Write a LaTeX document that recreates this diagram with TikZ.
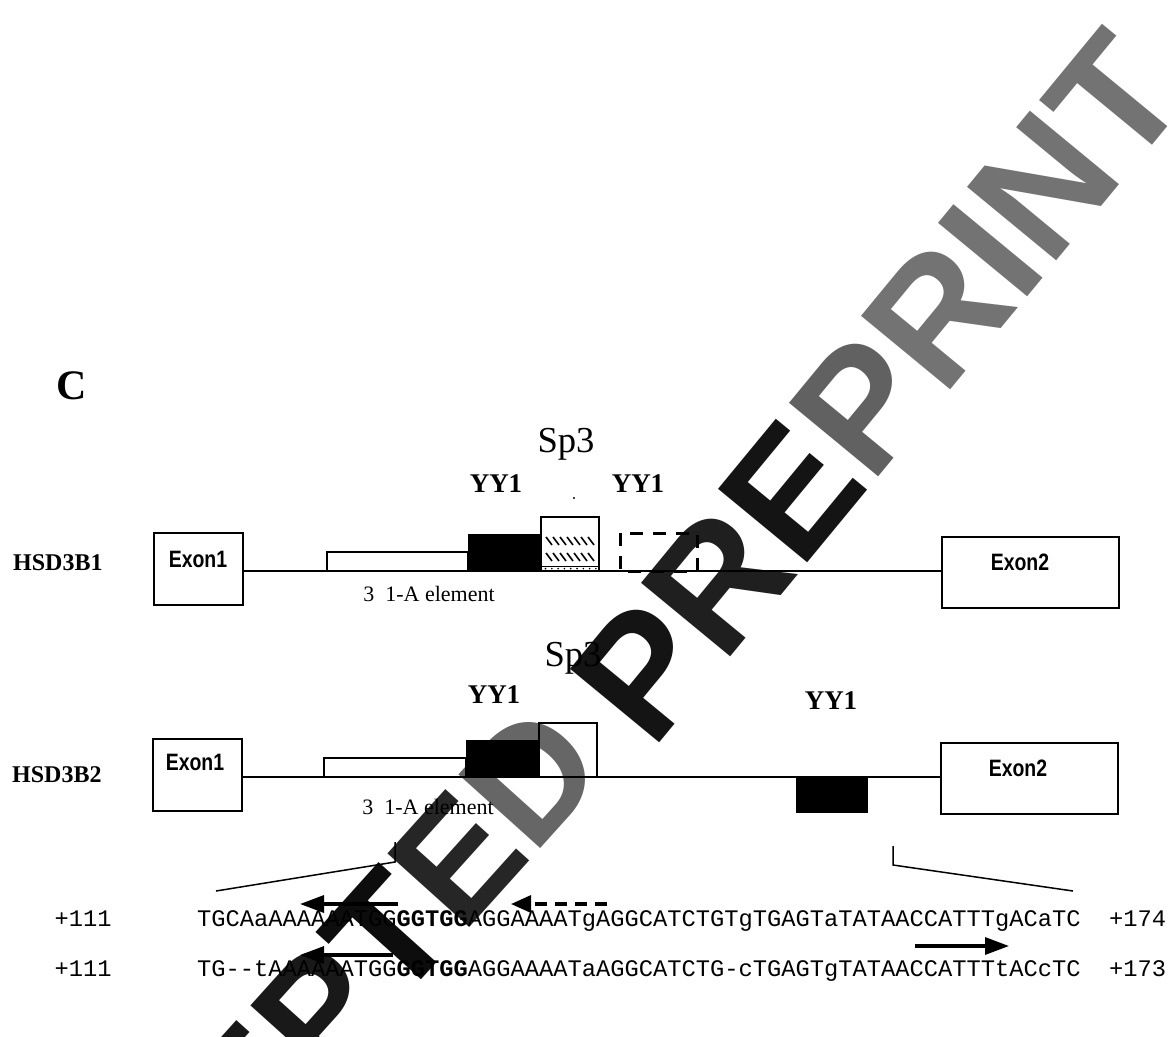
\documentclass[tikz,border=0pt]{standalone}
\usepackage{fontspec}
\setmainfont{Liberation Serif}
\setmonofont{Liberation Mono}
\newfontfamily\arialf{Liberation Sans}
\usepackage{graphicx}
\usetikzlibrary{arrows.meta}
\begin{document}
\begin{tikzpicture}[x=1pt,y=-1pt,
  exonbox/.style={draw, line width=1.8pt, inner sep=0pt},
  elbox/.style={draw, line width=1.4pt},
  gline/.style={line width=1.6pt},
  lab/.style={inner sep=0pt, anchor=base},
  ylab/.style={lab, font=\bfseries\fontsize{27}{27}\selectfont},
  splab/.style={lab, font=\fontsize{36.6}{37}\selectfont},
  glab/.style={inner sep=0pt, anchor=base west, font=\bfseries\fontsize{24}{24}\selectfont},
  ellab/.style={lab, font=\fontsize{22}{22}\selectfont},
  exlab/.style={lab, font=\arialf\bfseries\fontsize{23.7}{24}\selectfont},
  seq/.style={inner sep=0pt, anchor=base west, font=\ttfamily\fontsize{23.75}{24}\selectfont},
  sarrow/.style={line width=3.2pt, -{Triangle[length=24pt,width=17pt]}},
  darrow/.style={line width=3.2pt, dash pattern=on 12pt off 8pt, -{Triangle[length=20pt,width=17pt]}},
  bracket/.style={line width=1.5pt},
  hatch/.style={line width=1.6pt},
  wmark/.style={inner sep=0pt, font=\arialf\bfseries\fontsize{#1}{#1}\selectfont}
]
\useasboundingbox (0,0) rectangle (1175,1036);
\fill[white] (0,0) rectangle (1175,1036);

% watermark
\begin{scope}
\clip (0,0) rectangle (1175,1036);
\node[wmark=160, anchor=base east, rotate=48] (wm1) at (611,770)
 {\textcolor{black!90}{ACCEP}\textcolor{black!95}{T}\textcolor{black!85}{E}\textcolor{black!60}{D}};
\node[wmark=168, anchor=base west, rotate=50.5] (wm2) at (652,752)
 {\textcolor{black!92}{P}\textcolor{black!88}{R}\textcolor{black!92}{E}\textcolor{black!62}{P}\textcolor{black!55}{RINT}};
\end{scope}

% panel letter
\node[inner sep=0pt, anchor=base, font=\bfseries\fontsize{42}{42}\selectfont] (C) at (72,399) {C};

% gene labels
\node[glab] (g1) at (13,570) {HSD3B1};
\node[glab] (g2) at (12,782) {HSD3B2};

% exon boxes
\node[exonbox, minimum width=89pt, minimum height=72pt] (e1a) at (198.5,569) {};
\node[exonbox, minimum width=177pt, minimum height=71pt] (e2a) at (1030.5,572.5) {};
\node[exonbox, minimum width=89pt, minimum height=72pt] (e1b) at (197.5,775) {};
\node[exonbox, minimum width=177pt, minimum height=71pt] (e2b) at (1029.5,778.5) {};
\node[exlab] (t1a) at (198,567) {\scalebox{0.82}[1]{Exon1}};
\node[exlab] (t2a) at (1020,570) {\scalebox{0.82}[1]{Exon2}};
\node[exlab] (t1b) at (195,770) {\scalebox{0.82}[1]{Exon1}};
\node[exlab] (t2b) at (1018,776) {\scalebox{0.82}[1]{Exon2}};

% gene lines
\coordinate (ya) at (0,571);
\coordinate (yb) at (0,777);
\draw[gline] (e1a.east |- ya) -- (e2a.west |- ya);
\draw[gline] (e1b.east |- yb) -- (e2b.west |- yb);

% HSD3B1 elements
\draw[elbox] (327,552) rectangle (468,571);
\fill (468,534) rectangle (541,571);
\draw[line width=1.4pt] (541,517) rectangle (599,571);
\foreach \r in {537,553}{
  \foreach \k in {0,...,6}{
    \draw[hatch] (546+7*\k,\r) -- (552+7*\k,\r+8);
  }
}
\draw[line width=1pt] (541,566) -- (599,566);
\foreach \k in {0,...,8}{ \fill (545.5+6.3*\k,568.6) circle (0.9); }
\draw[line width=3pt, dash pattern=on 13pt off 10pt] (620,533) rectangle (697,571);
\fill (574,498) circle (1.2);

\node[ylab] (y1a) at (496,492) {YY1};
\node[splab] (s1a) at (566,452) {Sp3};
\node[ylab] (y2a) at (638,492) {YY1};
\node[ellab] (el1) at (429,601) {3\ \ 1-A element};

% HSD3B2 elements
\draw[elbox] (324,758) rectangle (466,777);
\fill (466,740) rectangle (539,777);
\draw[line width=1.3pt] (539,723) rectangle (597,777);
\fill (796,777) rectangle (868,813);

\node[ylab] (y1b) at (494,703) {YY1};
\node[splab] (s1b) at (573,666) {Sp3};
\node[ylab] (y2b) at (831,709) {YY1};
\node[ellab] (el2) at (428,814) {3\ \ 1-A element};

% brackets
\coordinate (bl1) at (395,842);
\coordinate (bl2) at (395,862);
\coordinate (bl3) at (216,891);
\coordinate (br1) at (893,846);
\coordinate (br2) at (893,865);
\coordinate (br3) at (1073,891);
\draw[bracket] (bl1) -- (bl2) -- (bl3);
\draw[bracket] (br1) -- (br2) -- (br3);

% sequences
\node[seq] (n1) at (54.5,926) {+111};
\node[seq] (q1) at (197,926) {TGCAaAAAAAATGG\textbf{GGTGG}AGGAAAATgAGGCATCTGTgTGAGTaTATAACCATTTgACaTC};
\node[seq] (m1) at (1109,926) {+174};
\node[seq] (n2) at (54.5,976) {+111};
\node[seq] (q2) at (197,976) {TG-{}-tAAAAAATGG\textbf{GGTGG}AGGAAAATaAGGCATCTG-cTGAGTgTATAACCATTTtACcTC};
\node[seq] (m2) at (1109,976) {+173};

% primer arrows
\coordinate (a1s) at (398,904);
\coordinate (a1e) at (300,904);
\coordinate (a2s) at (607,904);
\coordinate (a2e) at (511,904);
\coordinate (a3s) at (393,955);
\coordinate (a3e) at (300,955);
\coordinate (a4s) at (915,946);
\coordinate (a4e) at (1009,946);
\draw[sarrow] (a1s) -- (a1e);
\draw[darrow] (a2s) -- (a2e);
\draw[sarrow] (a3s) -- (a3e);
\draw[sarrow] (a4s) -- (a4e);
\end{tikzpicture}
\end{document}
